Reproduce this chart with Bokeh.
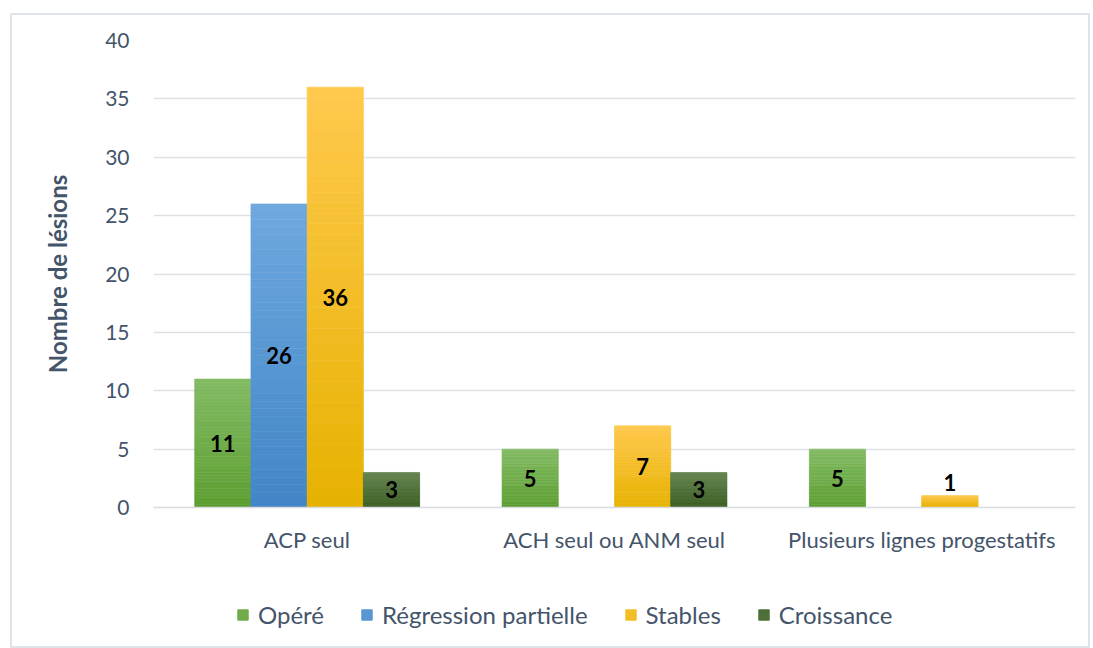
import numpy as np
from bokeh.plotting import figure
from bokeh.layouts import column
from bokeh.models import ColumnDataSource, Range1d, FixedTicker, Legend, LegendItem
from bokeh.transform import dodge
from bokeh.core.properties import value
from bokeh.embed import file_html
from bokeh.resources import INLINE

# ---------------- data ----------------
categories = ["ACP seul", "ACH seul ou ANM seul", "Plusieurs lignes progestatifs"]
series_names = ["Opéré", "Régression partielle", "Stables", "Croissance"]
opere = [11, 5, 5]
regression_partielle = [26, 0, 0]
stables = [36, 7, 1]
croissance = [3, 3, 0]
y_ticks = [0, 5, 10, 15, 20, 25, 30, 35, 40]
y_axis_title = "Nombre de lésions"

# ---------------- style ----------------
series_values = [opere, regression_partielle, stables, croissance]
top_colors = ["#83BB64", "#6FA8DE", "#FFC94D", "#62824F"]
bottom_colors = ["#5D9E31", "#4186C7", "#E6B200", "#385D20"]
FONT = "Lato"
TEXT_COLOR = "#44546A"
BAR_W = 0.183
N_SLICES = 40


def hex2rgb(h):
    h = h.lstrip("#")
    return tuple(int(h[i:i + 2], 16) for i in (0, 2, 4))


def lerp(c_bottom, c_top, t):
    a, b = hex2rgb(c_bottom), hex2rgb(c_top)
    return "#%02x%02x%02x" % tuple(int(round(a[j] + (b[j] - a[j]) * t)) for j in range(3))


p = figure(x_range=categories, y_range=Range1d(0, 40),
           width=1076, height=570, output_backend="svg", toolbar_location=None,
           min_border_left=141, min_border_right=13, min_border_top=25, min_border_bottom=78)
p.outline_line_color = None
p.background_fill_color = "white"
p.border_fill_color = "white"

for i, (name, vals) in enumerate(zip(series_names, series_values)):
    offset = (i - 1.5) * BAR_W
    xs, bots, tops, cols = [], [], [], []
    lx, ly, lt, lo = [], [], [], []
    for cat, v in zip(categories, vals):
        if v <= 0:
            continue
        for k in range(N_SLICES):
            xs.append(cat)
            bots.append(v * k / N_SLICES)
            tops.append(v * (k + 1) / N_SLICES)
            cols.append(lerp(bottom_colors[i], top_colors[i], (k + 0.5) / N_SLICES))
        lx.append(cat)
        lt.append(str(v))
        if v >= 2:
            ly.append(v / 2)
            lo.append(0)
        else:
            ly.append(v)
            lo.append(-13)
    src = ColumnDataSource(dict(cat=xs, bottom=bots, top=tops, color=cols))
    p.vbar(x=dodge("cat", offset, range=p.x_range), width=BAR_W, bottom="bottom", top="top",
           fill_color="color", line_color="color", line_width=0.6, source=src)
    lsrc = ColumnDataSource(dict(cat=lx, y=ly, t=lt, yo=lo))
    p.text(x=dodge("cat", offset, range=p.x_range), y="y", text="t", y_offset="yo", source=lsrc,
           text_font=value(FONT), text_font_style="bold", text_font_size="22px",
           text_color="black", text_align="center", text_baseline="middle")

# axes
p.yaxis.ticker = FixedTicker(ticks=y_ticks)
p.yaxis.axis_line_color = None
p.yaxis.major_tick_line_color = None
p.yaxis.minor_tick_line_color = None
p.yaxis.major_label_text_font = FONT
p.yaxis.major_label_text_font_size = "21px"
p.yaxis.major_label_text_color = TEXT_COLOR
p.yaxis.major_label_standoff = 18
p.yaxis.axis_label = y_axis_title
p.yaxis.axis_label_text_font = FONT
p.yaxis.axis_label_text_font_size = "24px"
p.yaxis.axis_label_text_font_style = "bold"
p.yaxis.axis_label_text_color = TEXT_COLOR
p.yaxis.axis_label_standoff = 30

p.xaxis.axis_line_color = "#D9DCE1"
p.xaxis.axis_line_width = 1.5
p.xaxis.major_tick_line_color = None
p.xaxis.minor_tick_line_color = None
p.xaxis.major_label_text_font = FONT
p.xaxis.major_label_text_font_size = "22px"
p.xaxis.major_label_text_color = TEXT_COLOR
p.xaxis.major_label_standoff = 12

p.xgrid.grid_line_color = None
p.ygrid.grid_line_color = "#DDE1E6"
p.ygrid.grid_line_width = 1.5

# legend strip (separate small figure; its frame is aligned with the main frame)
leg = figure(width=1076, height=61, x_range=Range1d(0, 1), y_range=Range1d(0, 1),
             output_backend="svg", toolbar_location=None, x_axis_type=None, y_axis_type=None,
             min_border=0)
leg.outline_line_color = None
leg.grid.grid_line_color = None
leg.border_fill_color = "white"
items = []
nan = float("nan")
for i, name in enumerate(series_names):
    mid = lerp(bottom_colors[i], top_colors[i], 0.5)
    r = leg.vbar(x=[nan], top=[nan], width=0.1, fill_color=mid, line_color=mid)
    items.append(LegendItem(label=name, renderers=[r]))
legend = Legend(items=items, orientation="horizontal", location=(83, 17),
                label_text_font=FONT, label_text_font_size="24px", label_text_color=TEXT_COLOR,
                glyph_width=13, glyph_height=13, label_standoff=9, spacing=36,
                padding=0, margin=0, border_line_color=None, background_fill_alpha=0)
leg.add_layout(legend, "center")

layout = column(p, leg, spacing=0)
layout.styles = {"border": "2px solid #DFE3EA", "margin-left": "10px", "margin-top": "13px",
                 "background-color": "white"}

open("out.html", "w").write(file_html(layout, INLINE))
